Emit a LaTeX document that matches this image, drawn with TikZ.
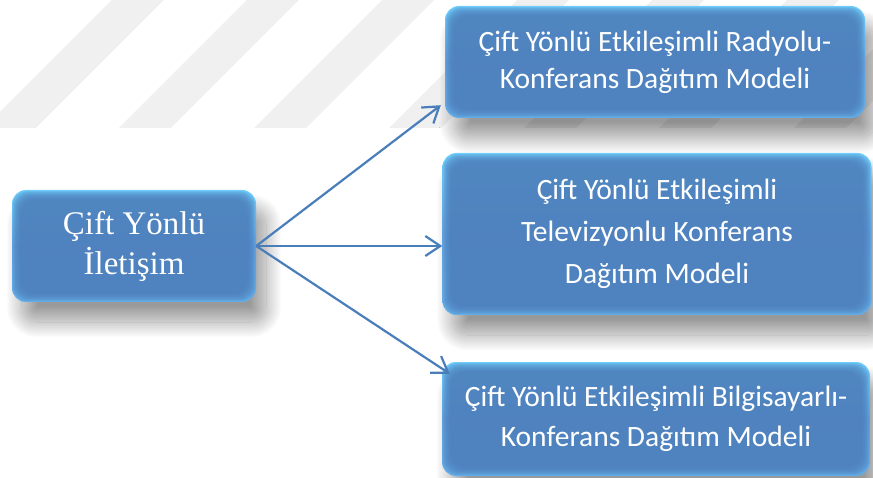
\documentclass[tikz,border=0pt]{standalone}
\usepackage{fontspec}
\setmainfont{Liberation Serif}
\newfontfamily\calibri{Carlito}
\usetikzlibrary{arrows.meta,shadows.blur,positioning}

\definecolor{boxedge}{RGB}{96,160,222}
\definecolor{boxmid}{RGB}{79,129,189}
\definecolor{boxtop}{RGB}{110,205,250}
\definecolor{linkblue}{RGB}{74,126,187}
\definecolor{stripegray}{RGB}{240,240,240}

\tikzset{
	bevelbox/.style={rounded corners=14pt, inner sep=0pt, align=center, text=white,
		top color=boxtop, bottom color=boxedge!70!boxtop, middle color=boxedge,
		blur shadow={shadow xshift=10pt, shadow yshift=-20pt, shadow blur radius=16pt,
			shadow blur steps=24, shadow opacity=40},
		path picture={
			\foreach \i in {1,...,9}
				\fill[boxmid, opacity=0.22, rounded corners=14pt]
				([xshift=\i pt, yshift=-1.1*\i pt]path picture bounding box.north west) rectangle
				([xshift=-\i pt, yshift=\i pt]path picture bounding box.south east);
		}},
	link/.style={-{Straight Barb[length=15pt,width=20pt]}, line width=2.2pt, draw=linkblue},
}

\begin{document}
\begin{tikzpicture}[x=1pt,y=-1pt]
			\useasboundingbox (0,0) rectangle (873,478);
			\begin{scope}
				\clip (0,0) rectangle (873,128);
				\foreach \s in {0,...,6}
					\fill[stripegray] (-16+135*\s,128) -- (36+135*\s,128) -- (164+135*\s,0) -- (112+135*\s,0) -- cycle;
			\end{scope}
			\node[bevelbox, minimum width=244pt, minimum height=112pt,
				font=\fontsize{33}{40}\selectfont] (duplex) at (134,246) {Çift Yönlü\\İletişim};
			\node[bevelbox, minimum width=420pt, minimum height=112pt,
				font=\calibri\fontsize{29.5}{37}\selectfont] (radyo) at (655,62)
				{Çift Yönlü Etkileşimli Radyolu-\\Konferans Dağıtım Modeli};
			\node[bevelbox, minimum width=429pt, minimum height=162pt,
				font=\calibri\fontsize{29.5}{42}\selectfont] (tv) at (657,234)
				{Çift Yönlü Etkileşimli\\Televizyonlu Konferans\\Dağıtım Modeli};
			\node[bevelbox, minimum width=428pt, minimum height=114pt,
				font=\calibri\fontsize{29.5}{40}\selectfont] (bilgisayar) at (656,419)
				{Çift Yönlü Etkileşimli Bilgisayarlı-\\Konferans Dağıtım Modeli};
			\draw[link] (duplex.east) -- ([shift={(-4,-13)}]radyo.south west);
			\draw[link] (duplex.east) -- (duplex.east -| tv.west);
			\draw[link] (duplex.east) -- ([shift={(8,12)}]bilgisayar.north west);
		\end{tikzpicture}
\end{document}
